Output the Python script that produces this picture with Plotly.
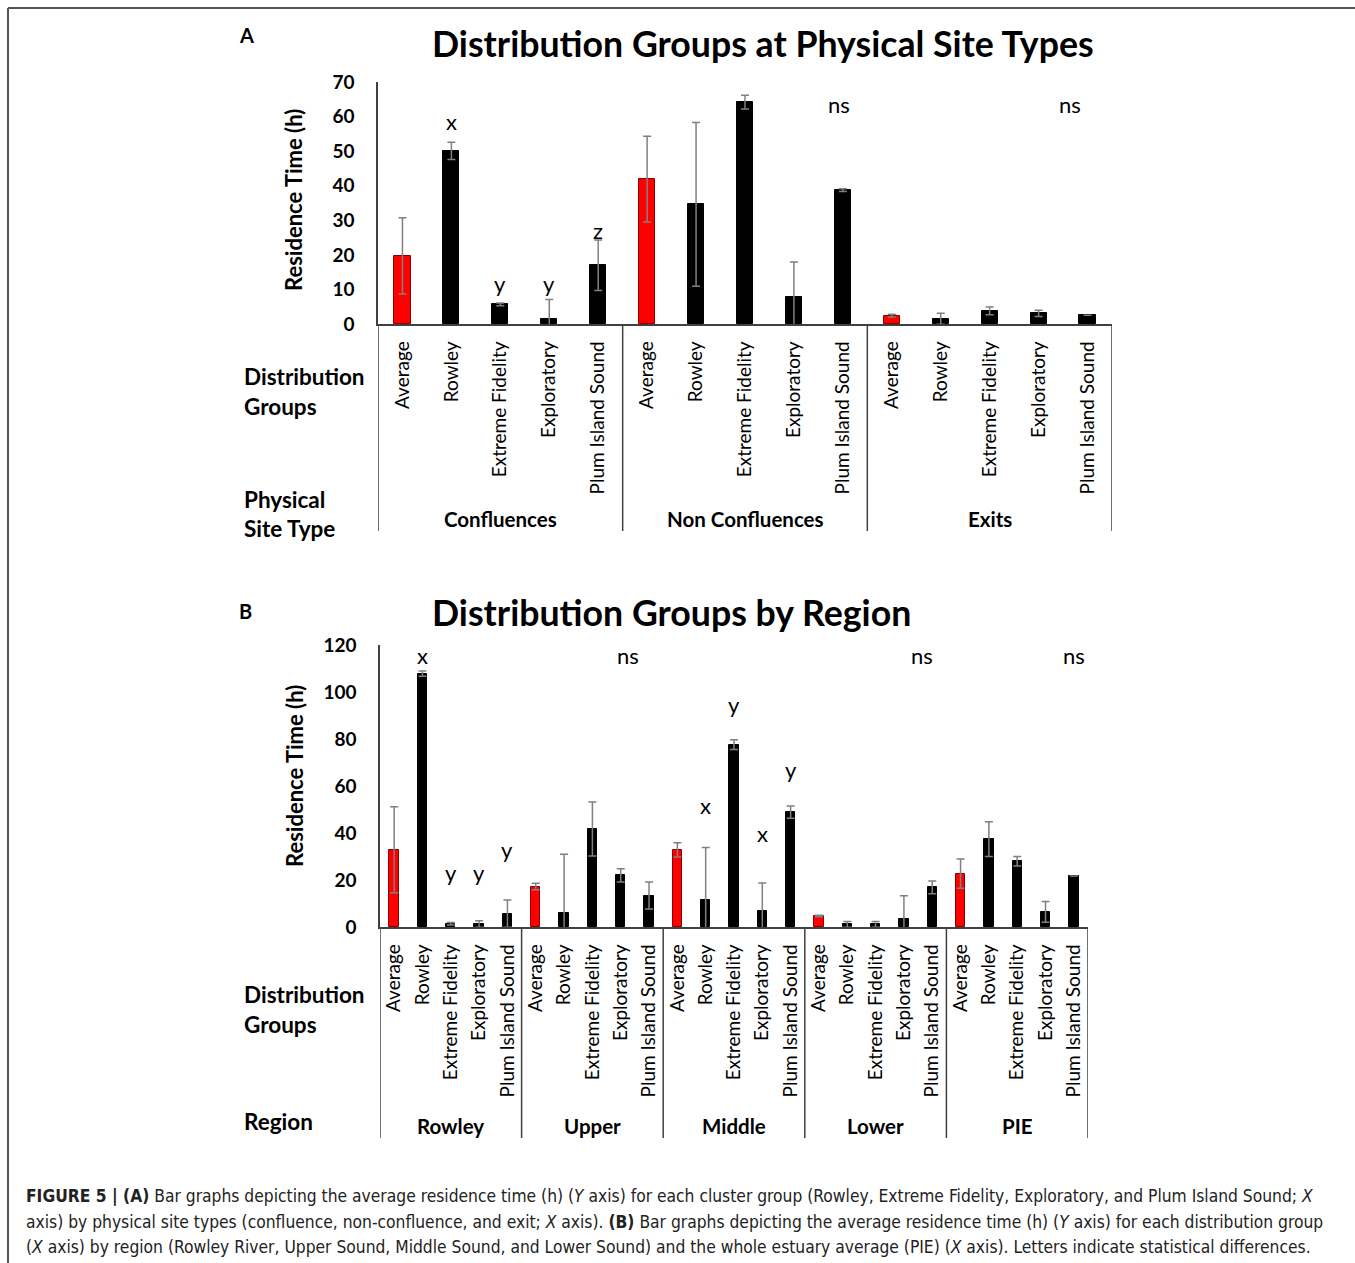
import plotly.graph_objects as go

W, H = 1355, 1263

groups = ["Average", "Rowley", "Extreme Fidelity", "Exploratory", "Plum Island Sound"]

# Panel A: physical site types
site_types = ["Confluences", "Non Confluences", "Exits"]
a_confluences = [19.7, 50.1, 5.7, 1.5, 17.0]
a_confluences_err = [11.0, 2.5, 0.4, 5.6, 7.3]
a_nonconfluences = [41.9, 34.6, 64.2, 7.9, 38.7]
a_nonconfluences_err = [12.4, 23.7, 2.0, 10.0, 0.4]
a_exits = [2.4, 1.5, 3.8, 3.1, 2.5]
a_exits_err = [0.4, 1.6, 1.1, 0.9, None]
a_yticks = [0, 10, 20, 30, 40, 50, 60, 70]

# Panel B: regions
regions = ["Rowley", "Upper", "Middle", "Lower", "PIE"]
b_rowley = [32.9, 107.8, 1.4, 1.3, 5.7]
b_rowley_err = [18.3, 1.1, 0.5, 1.4, 5.8]
b_upper = [17.2, 6.0, 41.7, 22.0, 13.4]
b_upper_err = [1.4, 25.0, 11.5, 2.8, 5.7]
b_middle = [32.8, 11.4, 77.6, 6.7, 48.9]
b_middle_err = [3.0, 22.4, 2.1, 12.0, 2.6]
b_lower = [4.7, 1.1, 1.1, 3.3, 16.9]
b_lower_err = [0.3, 1.2, 1.2, 10.0, 2.7]
b_pie = [22.7, 37.4, 28.0, 6.4, 21.7]
b_pie_err = [6.2, 7.4, 2.0, 4.4, None]
b_yticks = [0, 20, 40, 60, 80, 100, 120]

# significance letters: (bar position, y value, text)
a_letters = [(1, 58.7, "x"), (2, 11.8, "y"), (3, 11.8, "y"), (4, 27.1, "z"),
             (8.93, 63.6, "ns"), (13.65, 63.6, "ns")]
b_letters = [(1, 115.7, "x"), (8.26, 115.7, "ns"), (2, 23.4, "y"), (3, 23.4, "y"),
             (4, 32.8, "y"), (11, 51.9, "x"), (12, 94.5, "y"), (13, 39.6, "x"),
             (14, 67.2, "y"), (18.64, 115.7, "ns"), (24, 115.7, "ns")]

FONT = "Lato"
RED = "#FF0000"
BLACK = "#000000"

def px(p):
    return p / W

def py(p):
    return 1 - p / H

fig = go.Figure()

def add_panel(values, errs, xa, ya):
    ys, es, cols, lcols, xs, labels = [], [], [], [], [], []
    for g_vals, g_errs in zip(values, errs):
        for j, (v, e) in enumerate(zip(g_vals, g_errs)):
            xs.append(len(ys))
            ys.append(v)
            es.append(e)
            labels.append(groups[j])
            cols.append(RED if j == 0 else BLACK)
            lcols.append("#8B0000" if j == 0 else BLACK)
    fig.add_trace(go.Bar(
        x=xs, y=ys, xaxis=xa, yaxis=ya, width=0.33,
        marker=dict(color=cols, line=dict(color=lcols, width=1)),
        error_y=dict(type="data", array=es, symmetric=True, color="#808080",
                     thickness=1.5, width=4),
        showlegend=False, hoverinfo="skip",
    ))
    return xs, labels

xa_pos, xa_lab = add_panel([a_confluences, a_nonconfluences, a_exits],
                           [a_confluences_err, a_nonconfluences_err, a_exits_err], "x", "y")
xb_pos, xb_lab = add_panel([b_rowley, b_upper, b_middle, b_lower, b_pie],
                           [b_rowley_err, b_upper_err, b_middle_err, b_lower_err, b_pie_err], "x2", "y2")

axis_line = "#404040"
CAT_SIZE = 19
TICK_SIZE = 19
fig.update_layout(
    width=W, height=H, margin=dict(l=0, r=0, t=0, b=0, pad=0, autoexpand=False),
    paper_bgcolor="white", plot_bgcolor="white",
    font=dict(family=FONT, color="black"),
    bargap=0, showlegend=False,
    xaxis=dict(domain=[px(378), px(1112)], range=[-0.5, 14.5], tickvals=xa_pos, ticktext=xa_lab,
               tickangle=-90, tickfont=dict(family=FONT, size=CAT_SIZE, color="black"),
               showline=True, linecolor=axis_line, linewidth=1.5, ticks="", showgrid=False,
               zeroline=False, anchor="y", ticklabelstandoff=8, automargin=False),
    yaxis=dict(domain=[py(324), py(82)], range=[0, 70], tickvals=a_yticks,
               ticktext=["<b>%d</b>" % v for v in a_yticks],
               tickfont=dict(family=FONT, size=TICK_SIZE, color="black"),
               showline=True, linecolor=axis_line, linewidth=1.5, ticks="", showgrid=False,
               zeroline=False, anchor="x", ticklabelstandoff=18, automargin=False),
    xaxis2=dict(domain=[px(380), px(1088)], range=[-0.5, 24.5], tickvals=xb_pos, ticktext=xb_lab,
                tickangle=-90, tickfont=dict(family=FONT, size=CAT_SIZE, color="black"),
                showline=True, linecolor=axis_line, linewidth=1.5, ticks="", showgrid=False,
                zeroline=False, anchor="y2", ticklabelstandoff=8, automargin=False),
    yaxis2=dict(domain=[py(927), py(645)], range=[0, 120], tickvals=b_yticks,
                ticktext=["<b>%d</b>" % v for v in b_yticks],
                tickfont=dict(family=FONT, size=TICK_SIZE, color="black"),
                showline=True, linecolor=axis_line, linewidth=1.5, ticks="", showgrid=False,
                zeroline=False, anchor="x2", ticklabelstandoff=18, automargin=False),
)

ann = []
shapes = []

# group separator lines and group labels
def separators(xref, n_groups, y_top_px, y_bot_px, names, label_y_px):
    for k in range(n_groups + 1):
        shapes.append(dict(type="line", xref=xref, yref="paper", x0=k * 5 - 0.5, x1=k * 5 - 0.5,
                           y0=py(y_top_px), y1=py(y_bot_px), line=dict(color=axis_line, width=1.5)))
    for k, nm in enumerate(names):
        ann.append(dict(text="<b>%s</b>" % nm, xref=xref, yref="paper", x=k * 5 + 2, y=py(label_y_px),
                        showarrow=False, font=dict(family=FONT, size=20.5, color="black"),
                        xanchor="center", yanchor="middle"))

separators("x", 3, 324, 531, site_types, 519)
separators("x2", 5, 927, 1138, regions, 1126)

# significance letters
for xref, yref, letters in (("x", "y", a_letters), ("x2", "y2", b_letters)):
    for xv, yv, t in letters:
        ann.append(dict(text=t, xref=xref, yref=yref, x=xv, y=yv, showarrow=False,
                        font=dict(family=FONT, size=22, color="black"),
                        xanchor="center", yanchor="middle"))

def paper_text(text, x, y, size, xanchor="left", angle=0, yanchor="middle"):
    ann.append(dict(text=text, xref="paper", yref="paper", x=px(x), y=py(y), showarrow=False,
                    font=dict(family=FONT, size=size, color="black"), xanchor=xanchor,
                    yanchor=yanchor, textangle=angle))

# titles
paper_text("<b>Distribution Groups at Physical Site Types</b>", 763, 44, 35.7, xanchor="center")
paper_text("<b>Distribution Groups by Region</b>", 671, 612, 35.7, xanchor="center")
paper_text("<b>A</b>", 237, 35, 20)
paper_text("<b>B</b>", 237, 611, 20)
paper_text("<b>Residence Time (h)</b>", 294, 200, 22, xanchor="center", angle=-90)
paper_text("<b>Residence Time (h)</b>", 294, 776, 22, xanchor="center", angle=-90)

# left-hand row labels
for txt, yy in (("Distribution", 376), ("Groups", 406), ("Physical", 499), ("Site Type", 528),
                ("Distribution", 994), ("Groups", 1024), ("Region", 1121)):
    paper_text("<b>%s</b>" % txt, 242, yy, 22.5)

# caption
cap_font = "Liberation Sans Narrow, Arial Narrow, DejaVu Sans Condensed, sans-serif"
caption_lines = [
    "<b>FIGURE 5 | (A)</b> Bar graphs depicting the average residence time (h) (<i>Y</i> axis) for each cluster group (Rowley, Extreme Fidelity, Exploratory, and Plum Island Sound; <i>X</i>",
    "axis) by physical site types (confluence, non-confluence, and exit; <i>X</i> axis). <b>(B)</b> Bar graphs depicting the average residence time (h) (<i>Y</i> axis) for each distribution group",
    "(<i>X</i> axis) by region (Rowley River, Upper Sound, Middle Sound, and Lower Sound) and the whole estuary average (PIE) (<i>X</i> axis). Letters indicate statistical differences.",
]
for i, line in enumerate(caption_lines):
    ann.append(dict(text=line, xref="paper", yref="paper", x=px(24), y=py(1196 + i * 25.5),
                    showarrow=False, font=dict(family=cap_font, size=17.3, color="#222222"),
                    xanchor="left", yanchor="middle"))

# outer frame (left and top edges)
shapes.append(dict(type="line", xref="paper", yref="paper", x0=px(8), x1=px(8), y0=0, y1=py(8),
                   line=dict(color="#555555", width=2)))
shapes.append(dict(type="line", xref="paper", yref="paper", x0=px(8), x1=1, y0=py(8), y1=py(8),
                   line=dict(color="#555555", width=2)))

fig.update_layout(annotations=ann, shapes=shapes)

pin_script = (
    "document.documentElement.style.overflow='hidden';"
    "document.body.style.margin='0';document.body.style.overflow='hidden';"
    "var gds=document.getElementsByClassName('plotly-graph-div');"
    "for(var i=0;i<gds.length;i++){gds[i].style.position='fixed';gds[i].style.top='0px';gds[i].style.left='0px';}"
)
fig.write_html("out.html", config={"displayModeBar": False}, post_script=pin_script)
